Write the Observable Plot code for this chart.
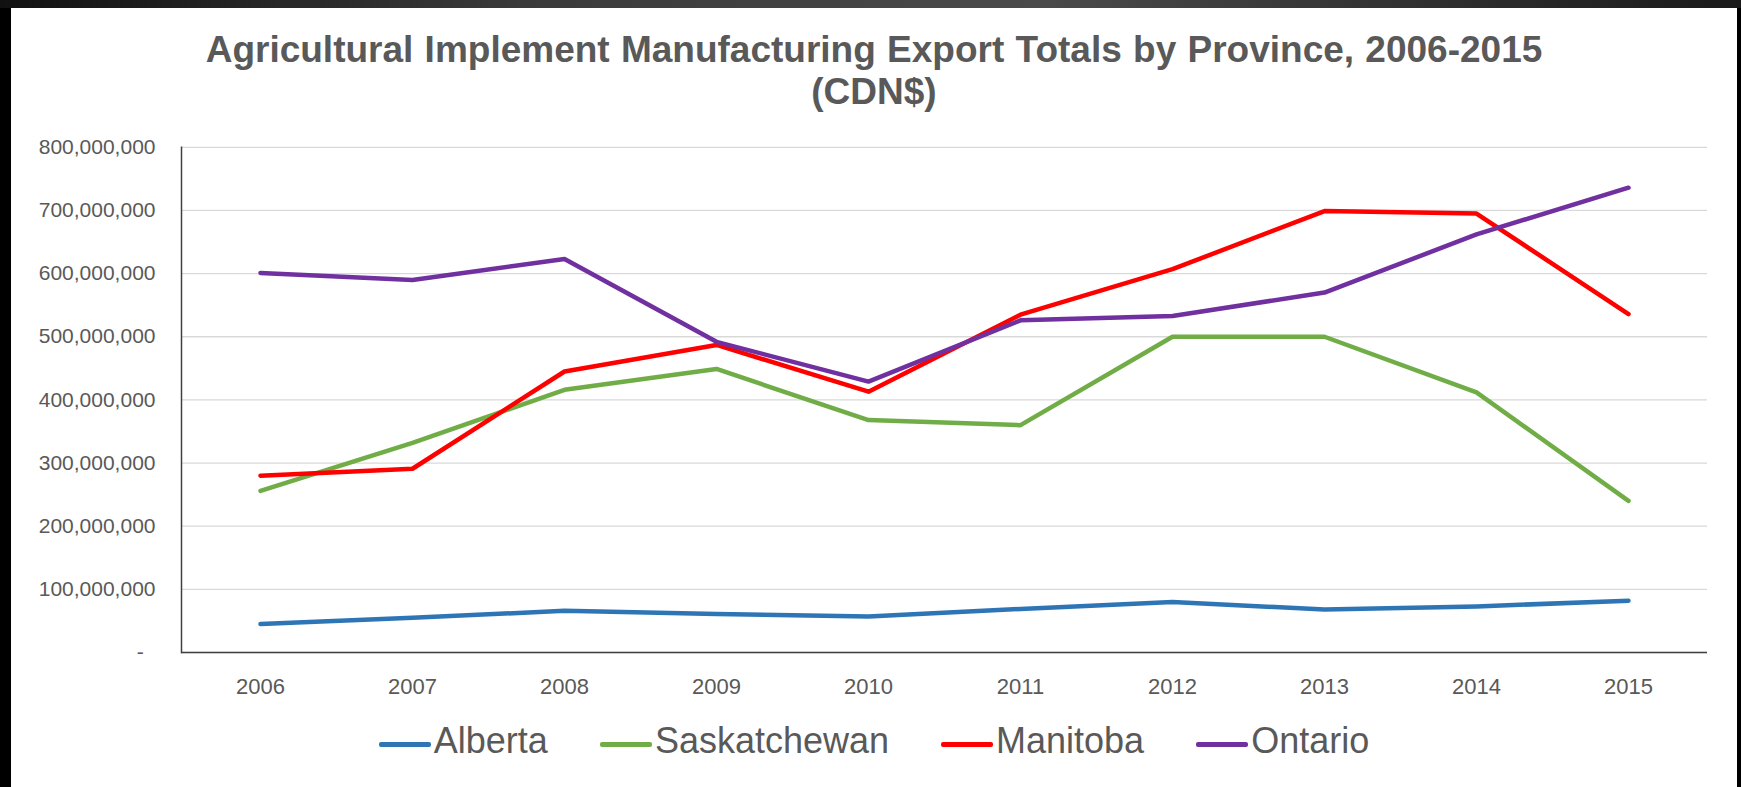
<!DOCTYPE html>
<html>
<head>
<meta charset="utf-8">
<script src="https://cdn.jsdelivr.net/npm/d3@7"></script>
<script src="https://cdn.jsdelivr.net/npm/@observablehq/plot@0.6"></script>
<style>
  html, body { margin: 0; padding: 0; }
  body { width: 1741px; height: 787px; background: #000; position: relative; overflow: hidden; font-family: "Liberation Sans", Arial, sans-serif; }
  #topband { position: absolute; left: 0; top: 0; width: 1741px; height: 8px; background: linear-gradient(90deg, #111 0%, #3a3a3a 30%, #4a4a4a 60%, #1a1a1a 100%); }
  #card { position: absolute; left: 11px; top: 8px; width: 1726px; height: 779px; background: #fff; }
  #title { height: 120px; box-sizing: border-box; padding-top: 21px; text-align: center; color: #595959; font-weight: bold; font-size: 37px; line-height: 42px; word-spacing: 1px; }
  #legend { display: flex; justify-content: center; align-items: center; padding-top: 8px; font-size: 36px; line-height: 40px; color: #595959; }
  .item { display: flex; align-items: center; margin: 0 26px; }
  .sw { width: 52px; height: 5px; border-radius: 2px; margin-right: 3px; position: relative; top: 3px; }
  svg { display: block; }
</style>
</head>
<body>
<div id="topband"></div>
<div id="card">
  <div id="title"></div>
  <div id="chart"></div>
  <div id="legend"></div>
</div>
<script>
const titleLines = ["Agricultural Implement Manufacturing Export Totals by Province, 2006-2015", "(CDN$)"];
const years = ["2006", "2007", "2008", "2009", "2010", "2011", "2012", "2013", "2014", "2015"];
const provinces = ["Alberta", "Saskatchewan", "Manitoba", "Ontario"];
const colors = ["#2E75B6", "#70AD47", "#FF0000", "#7030A0"];
const alberta = [45e6, 55e6, 66e6, 61e6, 57e6, 69e6, 80e6, 68e6, 73e6, 82e6];
const saskatchewan = [256e6, 332e6, 416e6, 449e6, 368e6, 360e6, 500e6, 500e6, 412e6, 240e6];
const manitoba = [280e6, 291e6, 445e6, 487e6, 413e6, 535e6, 607e6, 699e6, 695e6, 536e6];
const ontario = [601e6, 590e6, 623e6, 492e6, 429e6, 526e6, 533e6, 570e6, 662e6, 736e6];
const yTicks = [0, 100e6, 200e6, 300e6, 400e6, 500e6, 600e6, 700e6, 800e6];

const series = [alberta, saskatchewan, manitoba, ontario];
const rows = [];
provinces.forEach((p, i) => years.forEach((y, j) => rows.push({province: p, year: y, value: series[i][j]})));

document.getElementById("title").innerHTML = titleLines.map(t => `<div>${t}</div>`).join("");

const fmt = d => d === 0 ? "-\u00a0\u00a0" : d3.format(",")(d);

const chart = Plot.plot({
  width: 1726,
  height: 585,
  marginLeft: 170,
  marginRight: 30,
  marginTop: 18.8,
  marginBottom: 61,
  style: {fontFamily: "'Liberation Sans', Arial, sans-serif", background: "white", color: "#595959"},
  x: {type: "point", domain: years, padding: 0.5, label: null},
  y: {domain: [0, 800e6], label: null},
  color: {domain: provinces, range: colors},
  marks: [
    Plot.gridY(yTicks, {stroke: "#D9D9D9", strokeOpacity: 1, strokeWidth: 1.3}),
    Plot.axisY(yTicks, {tickSize: 0, tickPadding: 26, fontSize: 21, tickFormat: fmt, label: null}),
    Plot.axisX({tickSize: 0, tickPadding: 26, fontSize: 22, label: null}),
    Plot.ruleY([0], {stroke: "#404040", strokeWidth: 1.5}),
    Plot.frame({anchor: "left", stroke: "#404040", strokeWidth: 1.5}),
    Plot.line(rows, {x: "year", y: "value", z: "province", stroke: "province", strokeWidth: 4.5, strokeLinecap: "round", strokeLinejoin: "round"})
  ]
});
document.getElementById("chart").appendChild(chart);

document.getElementById("legend").innerHTML = provinces.map((p, i) =>
  `<div class="item"><span class="sw" style="background:${colors[i]}"></span><span>${p}</span></div>`).join("");
</script>
</body>
</html>
